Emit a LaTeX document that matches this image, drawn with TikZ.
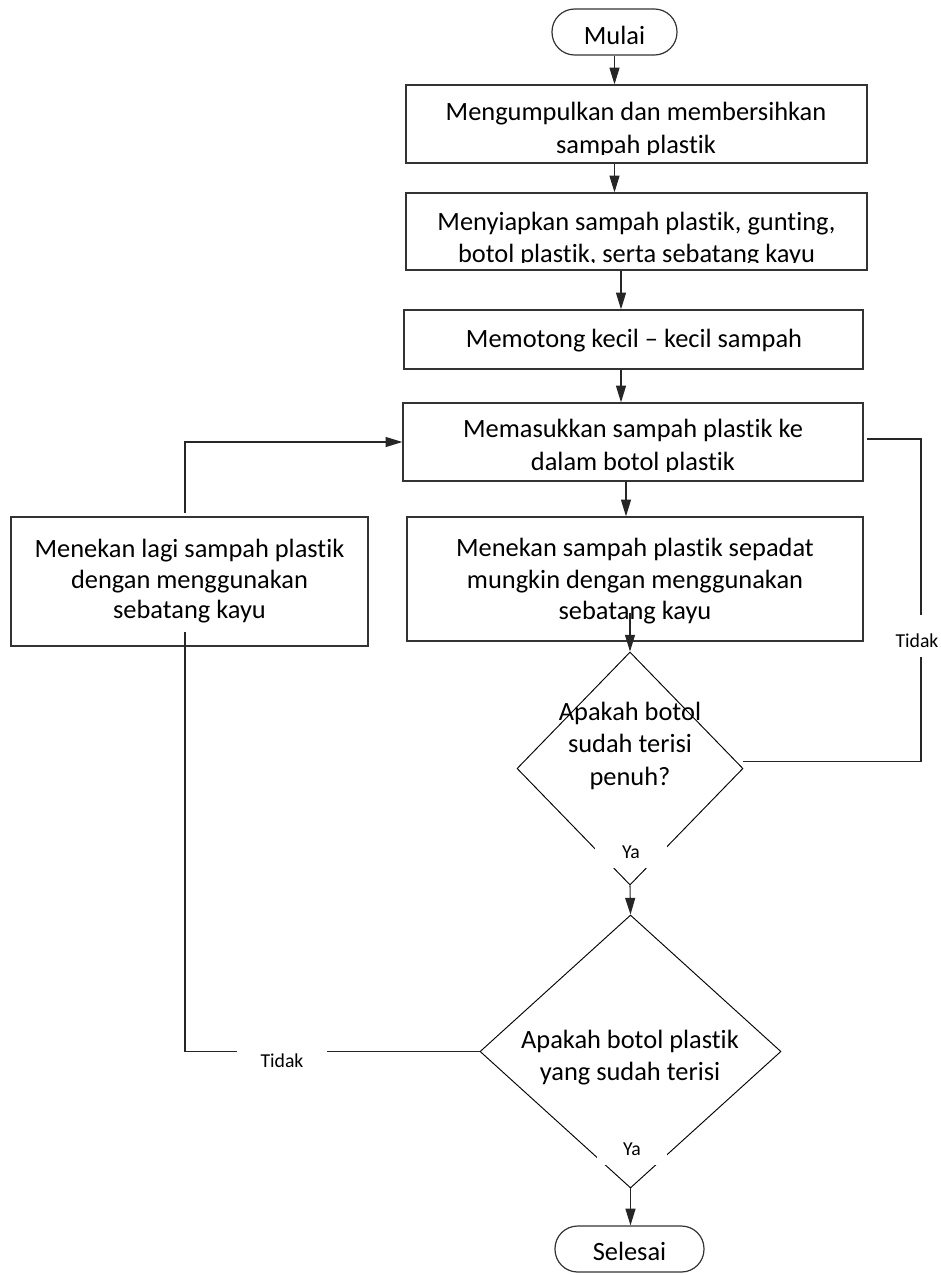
\documentclass[tikz,border=0pt]{standalone}
\usepackage{fontspec}
\setmainfont{Carlito}[Ligatures=NoCommon]
\usetikzlibrary{shapes.geometric,arrows.meta}
\begin{document}
\begin{tikzpicture}[x=0.75pt,y=-0.75pt,
  procbox/.style={draw=black!80,line width=1pt,rectangle,inner sep=0pt},
  term/.style={draw=black!80,line width=0.9pt,rectangle,rounded corners=17pt,inner sep=0pt,font=\fontsize{19.8}{24}\selectfont,text depth=0pt},
  decis/.style={draw=black,line width=0.7pt,diamond,inner sep=0pt},
  txt/.style={inner sep=0pt,anchor=base,font=\fontsize{19.8}{24}\selectfont},
  lbl/.style={fill=white,inner sep=0pt,font=\fontsize{14.8}{18}\selectfont,text depth=0pt},
  conn/.style={draw=black!85,line width=0.8pt},
  arr/.style={conn,-{Triangle[length=12.5pt,width=7.5pt]}}]
\useasboundingbox (0,0) rectangle (941,1275);

% terminals
\node[term,minimum width=93.75pt,minimum height=34.5pt,text height=18pt] (mulai) at (614.5,32) {Mulai};
\node[term,minimum width=111.75pt,minimum height=34.5pt,text height=16.5pt] (selesai) at (629.5,1249) {Selesai};

% process boxes
\node[procbox,minimum width=345.75pt,minimum height=58.5pt] (box1) at (636.5,124) {};
\node[procbox,minimum width=345.75pt,minimum height=57.75pt] (box2) at (636.5,231.5) {};
\node[procbox,minimum width=344.25pt,minimum height=44.25pt] (box3) at (633.5,339.5) {};
\node[procbox,minimum width=345pt,minimum height=58.5pt] (box4) at (633,442) {};
\node[procbox,minimum width=342pt,minimum height=93pt] (box5) at (635,579) {};
\node[procbox,minimum width=267.75pt,minimum height=96.75pt] (box6) at (189.5,581.5) {};

% decisions
\node[decis,minimum width=169.5pt,minimum height=174.75pt] (dia1) at (630,768.5) {};
\node[decis,minimum width=225.75pt,minimum height=204.75pt] (dia2) at (630.5,1051.5) {};

% texts
\begin{scope}
  \clip (406,85) rectangle (867,154.5);
  \node[txt] (t1a) at (636,120) {Mengumpulkan dan membersihkan};
  \node[txt] (t1b) at (636,153) {sampah plastik};
\end{scope}
\begin{scope}
  \clip (406,193) rectangle (867,262.5);
  \node[txt] (t2a) at (636.5,230) {Menyiapkan sampah plastik, gunting,};
  \node[txt] (t2b) at (636.5,262) {botol plastik, serta sebatang kayu};
\end{scope}
\node[txt] (t3) at (634,347) {Memotong kecil – kecil sampah};
\begin{scope}
  \clip (403,403) rectangle (863,471);
  \node[txt] (t4a) at (633,437) {Memasukkan sampah plastik ke};
  \node[txt] (t4b) at (633,470) {dalam botol plastik};
\end{scope}
\node[txt] (t5a) at (635,556) {Menekan sampah plastik sepadat};
\node[txt] (t5b) at (635,588) {mungkin dengan menggunakan};
\node[txt] (t5c) at (635,619) {sebatang kayu};
\node[txt] (t6a) at (189.5,557) {Menekan lagi sampah plastik};
\node[txt] (t6b) at (189.5,588) {dengan menggunakan};
\node[txt] (t6c) at (189.5,618) {sebatang kayu};
\node[txt] (d1a) at (630,720) {Apakah botol};
\node[txt] (d1b) at (630,752) {sudah terisi};
\node[txt] (d1c) at (630,785) {penuh?};
\node[txt] (d2a) at (630,1048) {Apakah botol plastik};
\node[txt] (d2b) at (630,1080) {yang sudah terisi};

% helper coordinates
\coordinate (c2) at (621,0);
\coordinate (c4) at (626,0);
\coordinate (s5) at (630,613);
\coordinate (rx) at (921,439);
\coordinate (r2) at (867,439);
\coordinate (l1) at (185,632);
\coordinate (l2) at (185,513);

% connectors
\draw[arr] (mulai.south) -- (mulai.south |- box1.north);
\draw[arr] (box1.south -| mulai.south) -- (box2.north -| mulai.south);
\draw[arr] (box2.south -| c2) -- (box3.north -| c2);
\draw[arr] (box3.south -| c2) -- (box4.north -| c2);
\draw[arr] (box4.south -| c4) -- (box5.north -| c4);
\draw[arr] (s5) -- (dia1.north);
\draw[arr] (dia1.south) -- (dia2.north);
\draw[arr] (dia2.south) -- (dia2.south |- selesai.north);
\draw[conn] ([yshift=5.25pt]dia1.east) -| (rx) -- (r2);
\draw[conn] (dia2.west) -| (l1);
\draw[arr] (l2) |- (box4.west);

% labels
\node[lbl,minimum width=54pt,minimum height=25.5pt,text height=10.5pt] (ya1) at (631,851) {Ya};
\node[lbl,minimum width=52.5pt,minimum height=24pt,text height=10pt] (ya2) at (632,1149) {Ya};
\node[lbl,inner xsep=2pt,minimum height=31.5pt,text height=16.5pt] (tidak1) at (917,636) {Tidak};
\node[lbl,minimum width=67.5pt,minimum height=15pt,text height=10.5pt] (tidak2) at (282,1060) {Tidak};
\end{tikzpicture}
\end{document}
